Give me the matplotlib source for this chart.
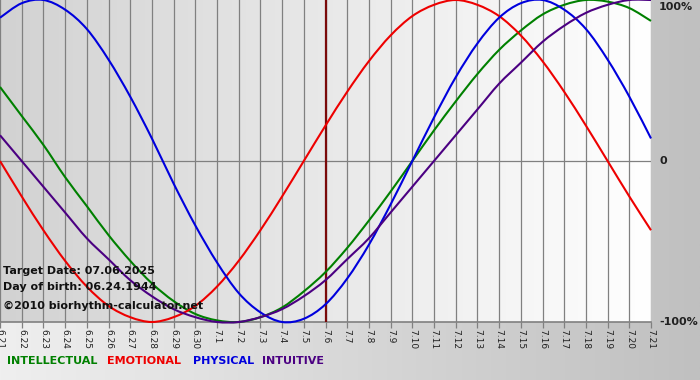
import matplotlib
matplotlib.use('Agg')
import matplotlib.pyplot as plt
import numpy as np
from matplotlib.colors import LinearSegmentedColormap
from matplotlib.path import Path
from matplotlib.patches import PathPatch

# Day labels along the bottom
days = ['6.21', '6.22', '6.23', '6.24', '6.25', '6.26', '6.27', '6.28', '6.29', '6.30',
        '7.1', '7.2', '7.3', '7.4', '7.5', '7.6', '7.7', '7.8', '7.9', '7.10',
        '7.11', '7.12', '7.13', '7.14', '7.15', '7.16', '7.17', '7.18', '7.19', '7.20', '7.21']
target_day = '7.6'

# Biorhythm values per day (fraction of 100%)
physical = [0.89, 0.98, 1.00, 0.94, 0.82, 0.63, 0.40, 0.14, -0.14, -0.40, -0.63, -0.82, -0.94, -1.00, -0.98,
            -0.89, -0.73, -0.52, -0.27, 0.00, 0.27, 0.52, 0.73, 0.89, 0.98, 1.00, 0.94, 0.82, 0.63, 0.40, 0.14]
emotional = [0.00, -0.22, -0.43, -0.62, -0.78, -0.90, -0.97, -1.00, -0.97, -0.90, -0.78, -0.62, -0.43, -0.22, 0.00,
             0.22, 0.43, 0.62, 0.78, 0.90, 0.97, 1.00, 0.97, 0.90, 0.78, 0.62, 0.43, 0.22, 0.00, -0.22, -0.43]
intellectual = [0.46, 0.28, 0.10, -0.10, -0.28, -0.46, -0.62, -0.76, -0.87, -0.95, -0.99, -1.00, -0.97, -0.91, -0.81,
                -0.69, -0.54, -0.37, -0.19, 0.00, 0.19, 0.37, 0.54, 0.69, 0.81, 0.91, 0.97, 1.00, 0.99, 0.95, 0.87]
intuitive = [0.16, 0.00, -0.16, -0.32, -0.48, -0.61, -0.74, -0.84, -0.92, -0.97, -1.00, -1.00, -0.97, -0.92, -0.84,
             -0.74, -0.61, -0.48, -0.32, -0.16, 0.00, 0.16, 0.32, 0.48, 0.61, 0.74, 0.84, 0.92, 0.97, 1.00, 1.00]

info_lines = ['Target Date: 07.06.2025', 'Day of birth: 06.24.1944', '\u00a92010 biorhythm-calculator.net']
legend_items = [('INTELLECTUAL', '#008000'), ('EMOTIONAL', '#ee0000'),
                ('PHYSICAL', '#0000dd'), ('INTUITIVE', '#4b0082')]


def smooth_path(xs, ys):
    # Catmull-Rom style bezier through the daily points, so the curve is drawn round
    xs = np.asarray(xs, float)
    ys = np.asarray(ys, float)
    pts = np.column_stack([xs, ys])
    verts = [pts[0]]
    codes = [Path.MOVETO]
    n = len(pts)
    for i in range(n - 1):
        p0 = pts[max(i - 1, 0)]
        p1 = pts[i]
        p2 = pts[i + 1]
        p3 = pts[min(i + 2, n - 1)]
        c1 = p1 + (p2 - p0) / 6
        c2 = p2 - (p3 - p1) / 6
        verts += [c1, c2, p2]
        codes += [Path.CURVE4] * 3
    return Path(verts, codes)


W, H = 700, 380
fig = plt.figure(figsize=(W / 100, H / 100), dpi=100)

# Figure background: grey gradient, lighter on the left
bg = fig.add_axes([0, 0, 1, 1], zorder=-10)
bg_cmap = LinearSegmentedColormap.from_list('bg', ['#efefef', '#c0c0c0'])
bg.imshow(np.linspace(0, 1, 256)[None, :], aspect='auto', cmap=bg_cmap, extent=[0, 1, 0, 1])
bg.set_axis_off()

# Plot area
plot_w, plot_h = 651, 322
ax = fig.add_axes([0, (H - plot_h) / H, plot_w / W, plot_h / H])
x = np.arange(len(days))
ax.set_xlim(0, len(days) - 1)
ax.set_ylim(-1, 1)

plot_cmap = LinearSegmentedColormap.from_list('pl', ['#d2d2d2', '#ffffff'])
ax.imshow(np.linspace(0, 1, 256)[None, :], aspect='auto', cmap=plot_cmap,
          extent=[0, len(days) - 1, -1, 1], zorder=0)

# vertical day lines
for xi in x:
    ax.axvline(xi, color='#808080', lw=0.9, zorder=1)
ax.axhline(0, color='#808080', lw=0.9, zorder=1)
ax.axhline(-1, color='#808080', lw=1.2, zorder=1, clip_on=False)
ax.axvline(days.index(target_day), color='#7a0a0a', lw=1.6, zorder=2)

for series, col in [(intellectual, '#008000'), (emotional, '#ee0000'),
                    (physical, '#0000dd'), (intuitive, '#4b0082')]:
    ax.add_patch(PathPatch(smooth_path(x, series), facecolor='none', edgecolor=col,
                           lw=1.5, zorder=3, clip_on=False))

for s in ax.spines.values():
    s.set_visible(False)
ax.set_yticks([])
ax.set_xticks(x)
ax.set_xticklabels(days, rotation=-90, fontsize=6.5, color='#202020')
ax.tick_params(axis='x', direction='out', length=4, width=0.9, color='#808080', pad=1)

# right-hand percentage labels
for yv, lab, dy in [(1, '100%', -7), (0, '0', 0), (-1, '-100%', 0)]:
    ax.text(659 / plot_w, (yv + 1) / 2 + dy / plot_h, lab, transform=ax.transAxes, ha='left',
            va='center', fontsize=8, fontweight='bold', color='#202020', clip_on=False)

# info text in the lower left corner of the plot
for line, ypx in zip(info_lines, [271, 287, 306]):
    fig.text(3 / W, 1 - ypx / H, line, ha='left', va='center', fontsize=8,
             fontweight='bold', color='#111111', zorder=20)

# coloured legend words
for (lab, col), xpx in zip(legend_items, [7, 107, 193, 262]):
    fig.text(xpx / W, 1 - 361 / H, lab, ha='left', va='center', fontsize=8,
             fontweight='bold', color=col)

fig.savefig('out.png', dpi=100)
